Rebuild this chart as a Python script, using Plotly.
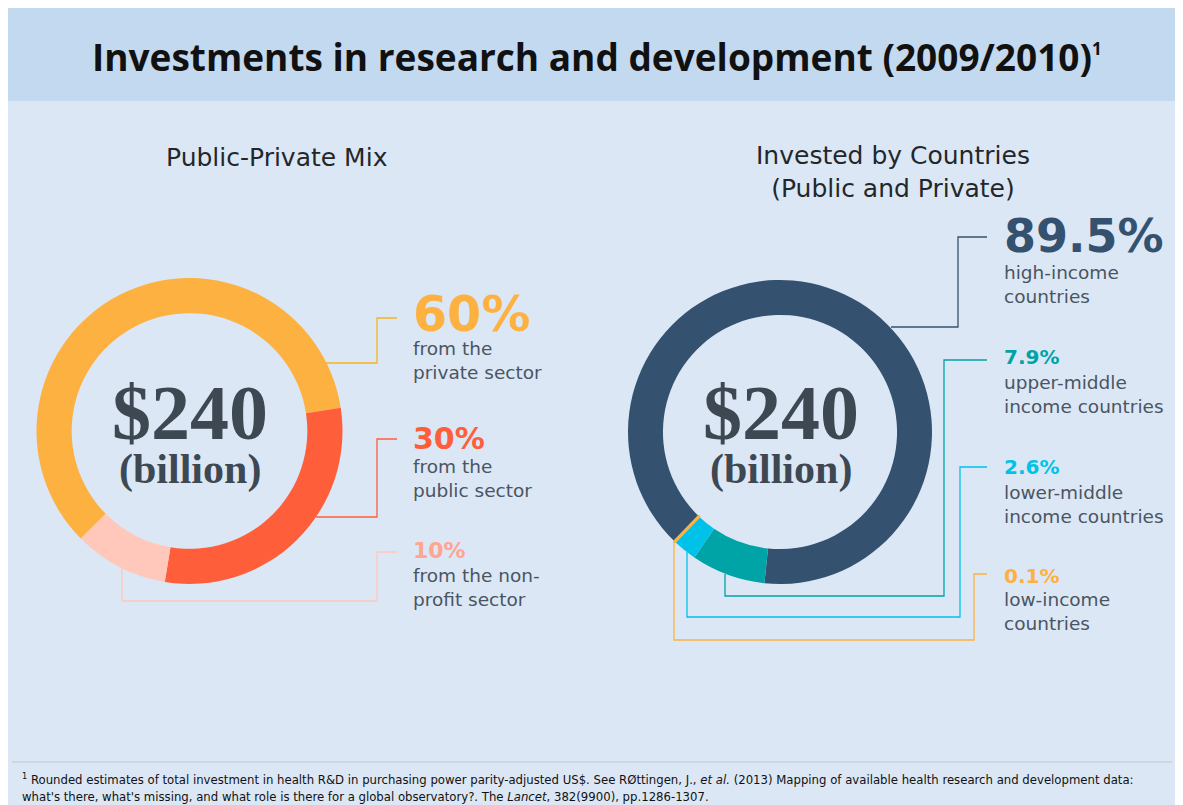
import plotly.graph_objects as go

# ---- data ----
mix_labels = ["from the<br>private sector", "from the<br>public sector", "from the non-<br>profit sector"]
mix_values = [60, 30, 10]
mix_colors = ["#FDB140", "#FF5E3A", "#FFC8BA"]

country_labels = ["high-income<br>countries", "upper-middle<br>income countries",
                  "lower-middle<br>income countries", "low-income<br>countries"]
country_values = [89.5, 7.9, 2.6, 0.1]
country_colors = ["#34526F", "#00A3A6", "#00C2E8", "#FDB140"]

total_text = "$240"
unit_text = "(billion)"

# page has an 8px body margin, so the figure is sized to sit inside the window
OFF = 8
FW, FH = 1175, 797


def px(x):
    return (x - OFF) / FW


def py(y):
    return 1 - (y - OFF) / FH


def domain(cx, cy, r):
    return dict(x=[px(cx - r), px(cx + r)], y=[py(cy + r), py(cy - r)])


fig = go.Figure()

fig.add_trace(go.Pie(
    values=mix_values, labels=mix_labels, sort=False, direction="clockwise",
    rotation=225.3, hole=0.77, textinfo="none", hoverinfo="skip",
    marker=dict(colors=mix_colors, line=dict(width=0)),
    domain=domain(189.5, 431, 153), showlegend=False,
))
fig.add_trace(go.Pie(
    values=country_values, labels=country_labels, sort=False, direction="clockwise",
    rotation=224, hole=0.77, textinfo="none", hoverinfo="skip",
    marker=dict(colors=country_colors,
                line=dict(width=[0, 0, 0, 2.5], color=country_colors)),
    domain=domain(780, 432, 152), showlegend=False,
))

shapes = [
    # title banner and footnote rule
    dict(type="rect", xref="paper", yref="paper", x0=0, x1=1, y0=py(101), y1=1,
         fillcolor="#C3D9EF", line_width=0, layer="below"),
    dict(type="line", xref="paper", yref="paper", x0=px(12), x1=px(1172), y0=py(762), y1=py(762),
         line=dict(color="#C8D2DC", width=1.5)),
]


def path(points, color):
    d = "M " + " L ".join(f"{px(x)},{py(y)}" for x, y in points)
    return dict(type="path", path=d, xref="paper", yref="paper",
                line=dict(color=color, width=1.3))


# connectors (left)
left_paths = [
    [(326, 363), (377, 363), (377, 318), (397, 318)],
    [(316, 517), (377, 517), (377, 439), (397, 439)],
    [(122, 568), (122, 601), (377, 601), (377, 552), (397, 552)],
]
left_line_colors = ["#F9B21E", "#FF5E3A", "#FFC8BA"]
for pts, c in zip(left_paths, left_line_colors):
    shapes.append(path(pts, c))

# connectors (right)
right_paths = [
    [(891, 327), (958, 327), (958, 237), (987, 237)],
    [(725, 574), (725, 596), (944, 596), (944, 360), (987, 360)],
    [(687, 552), (687, 617), (960, 617), (960, 467), (987, 467)],
    [(674, 541), (674, 640), (974, 640), (974, 574), (987, 574)],
]
for pts, c in zip(right_paths, country_colors):
    shapes.append(path(pts, c))

fig.update_layout(shapes=shapes)

ann = []
SANS = "DejaVu Sans"
BODY = "#4A5562"


def text(x, y, s, size, color, family=SANS, weight=None, xanchor="left", yanchor="middle"):
    f = dict(family=family, size=size, color=color)
    if weight:
        f["weight"] = weight
    ann.append(dict(x=px(x), y=py(y), xref="paper", yref="paper", text=s, showarrow=False,
                    xanchor=xanchor, yanchor=yanchor, align=xanchor if xanchor != "center" else "center",
                    font=f))


# title
text(597, 57, "Investments in research and development (2009/2010)"
              "<sup><span style='font-size:17px'>1</span></sup>", 37, "#111111",
     family="Open Sans", weight=700, xanchor="center")

# subtitles
text(276, 158, "Public-Private Mix", 25, "#23272B", xanchor="center")
text(893, 172, "Invested by Countries<br>(Public and Private)", 25, "#23272B", xanchor="center")

# centre totals
for cx in (190, 781):
    text(cx, 412, total_text, 78, "#3D4852", family="Liberation Serif", weight=700, xanchor="center")
    text(cx, 469, unit_text, 42, "#3D4852", family="Liberation Serif", weight=700, xanchor="center")

# left labels
left_pct_y = [314, 438, 550]
left_pct_size = [49, 30, 22]
left_pct_colors = ["#FDB140", "#FF5E3A", "#FFA592"]
left_body_y = [361, 478, 587]
for v, lab, c, yp, sz, yb in zip(mix_values, mix_labels, left_pct_colors, left_pct_y, left_pct_size, left_body_y):
    text(411, yp, f"{v:g}%", sz, c, weight=700)
    text(411, yb, lab, 18.5, BODY)

# right labels
right_pct_y = [236, 357, 467, 576]
right_pct_size = [46, 20, 20, 20]
right_body_y = [284, 394, 504, 611]
right_pct_colors = ["#34526F", "#00A3A6", "#00C2E8", "#FDB140"]
for v, lab, c, yp, sz, yb in zip(country_values, country_labels, right_pct_colors,
                                 right_pct_y, right_pct_size, right_body_y):
    text(1002, yp, f"{v:g}%", sz, c, weight=700)
    text(1002, yb, lab, 18.5, BODY)

# footnote
text(20, 779, "<sup>1</sup> Rounded estimates of total investment in health R&D in purchasing power "
              "parity-adjusted US$. See RØttingen, J., <i>et al.</i> (2013) Mapping of available health "
              "research and development data:", 13, "#111111", family="DejaVu Sans Condensed")
text(20, 796, "what's there, what's missing, and what role is there for a global observatory?. "
              "The <i>Lancet</i>, 382(9900), pp.1286-1307.", 13, "#111111", family="DejaVu Sans Condensed")

fig.update_layout(
    annotations=ann,
    width=FW, height=FH,
    margin=dict(l=0, r=0, t=0, b=0),
    paper_bgcolor="#DCE7F5",
    plot_bgcolor="#DCE7F5",
    xaxis=dict(visible=False), yaxis=dict(visible=False),
)

fig.write_html("out.html")
